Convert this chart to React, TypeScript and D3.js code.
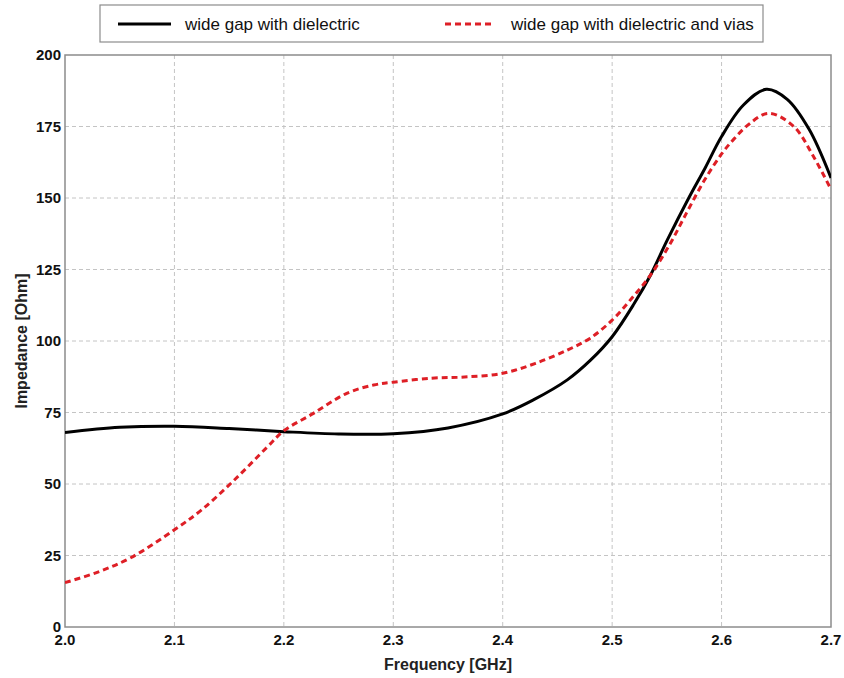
import React from "react";
import * as d3 from "d3";

const freqBlack = [2.0, 2.05, 2.1, 2.15, 2.2, 2.25, 2.3, 2.35, 2.4, 2.428, 2.459, 2.48, 2.5, 2.52, 2.535, 2.55, 2.57, 2.585, 2.6, 2.62, 2.641, 2.66, 2.68, 2.7];
const zBlack = [68, 69.8, 70.2, 69.4, 68.3, 67.5, 67.6, 69.6, 74.5, 79.4, 86.4, 93.2, 101.5, 113, 123, 135, 150, 160.5, 171.5, 182.5, 188, 184.5, 174, 157];

const freqRed = [2.0, 2.03, 2.06, 2.1, 2.125, 2.155, 2.185, 2.2, 2.227, 2.2575, 2.282, 2.3, 2.335, 2.365, 2.4, 2.43, 2.46, 2.48, 2.5, 2.517, 2.535, 2.553, 2.568, 2.584, 2.6, 2.611, 2.625, 2.643, 2.666, 2.684, 2.7];
const zRed = [15.5, 19.2, 24.2, 34, 41, 51.5, 63, 68.6, 74.7, 81.7, 84.6, 85.6, 87, 87.4, 88.7, 92.2, 97, 101, 107.3, 114.5, 123, 134, 144.8, 156, 165.4, 170.5, 175.8, 179.6, 175, 164.5, 153];

const xTicks = [2.0, 2.1, 2.2, 2.3, 2.4, 2.5, 2.6, 2.7];
const yTicks = [0, 25, 50, 75, 100, 125, 150, 175, 200];
const seriesNames = ["wide gap with dielectric", "wide gap with dielectric and vias"];

const W = 844;
const H = 678;
const M = { left: 65, right: 831, top: 55, bottom: 627 };
const FONT = "'Liberation Sans', Arial, sans-serif";

export default function App() {
  const x = d3.scaleLinear().domain([2.0, 2.7]).range([M.left, M.right]);
  const y = d3.scaleLinear().domain([0, 200]).range([M.bottom, M.top]);
  const line = d3
    .line<[number, number]>()
    .x((d) => x(d[0]))
    .y((d) => y(d[1]))
    .curve(d3.curveCatmullRom.alpha(0.5));
  const blackPts = freqBlack.map((f, i) => [f, zBlack[i]] as [number, number]);
  const redPts = freqRed.map((f, i) => [f, zRed[i]] as [number, number]);

  return (
    <svg
      width={W}
      height={H}
      style={{ position: "absolute", left: 0, top: 0, background: "#fff" }}
      fontFamily={FONT}
    >
      <defs>
        <clipPath id="plotclip">
          <rect x={M.left} y={M.top} width={M.right - M.left} height={M.bottom - M.top} />
        </clipPath>
      </defs>
      {/* grid */}
      {xTicks.slice(1, -1).map((t) => (
        <line key={"gx" + t} x1={x(t)} x2={x(t)} y1={M.top} y2={M.bottom} stroke="#c4c4c4" strokeWidth={1} strokeDasharray="4,3" />
      ))}
      {yTicks.slice(1, -1).map((t) => (
        <line key={"gy" + t} x1={M.left} x2={M.right} y1={y(t)} y2={y(t)} stroke="#c4c4c4" strokeWidth={1} strokeDasharray="4,3" />
      ))}
      {/* frame */}
      <rect x={M.left} y={M.top} width={M.right - M.left} height={M.bottom - M.top} fill="none" stroke="#8c8c8c" strokeWidth={1.5} />
      {/* curves */}
      <g clipPath="url(#plotclip)">
        <path d={line(blackPts) || ""} fill="none" stroke="#000" strokeWidth={3} />
        <path d={line(redPts) || ""} fill="none" stroke="#de1f26" strokeWidth={3} strokeDasharray="6,4" />
      </g>
      {/* y ticks */}
      {yTicks.map((t) => (
        <text key={"yt" + t} x={M.left - 4} y={y(t)} dy="0.35em" textAnchor="end" fontSize={15} fontWeight="bold" fill="#111">
          {t}
        </text>
      ))}
      {/* x ticks */}
      {xTicks.map((t) => (
        <text key={"xt" + t} x={x(t)} y={645} textAnchor="middle" fontSize={15} fontWeight="bold" fill="#111">
          {t.toFixed(1)}
        </text>
      ))}
      <text x={(M.left + M.right) / 2} y={670} textAnchor="middle" fontSize={16} fontWeight="bold" fill="#222">
        Frequency [GHz]
      </text>
      <text
        transform={`translate(27,${(M.top + M.bottom) / 2}) rotate(-90)`}
        textAnchor="middle"
        fontSize={16}
        fontWeight="bold"
        fill="#222"
      >
        Impedance [Ohm]
      </text>
      {/* legend */}
      <rect x={100} y={5} width={663} height={37} fill="#fff" stroke="#8c8c8c" strokeWidth={1.2} />
      <line x1={118} x2={171} y1={24} y2={24} stroke="#000" strokeWidth={3} />
      <text x={185} y={30} fontSize={17} fill="#111">{seriesNames[0]}</text>
      <line x1={445} x2={495} y1={24} y2={24} stroke="#de1f26" strokeWidth={3} strokeDasharray="6,4" />
      <text x={511} y={30} fontSize={17} fill="#111">{seriesNames[1]}</text>
    </svg>
  );
}
